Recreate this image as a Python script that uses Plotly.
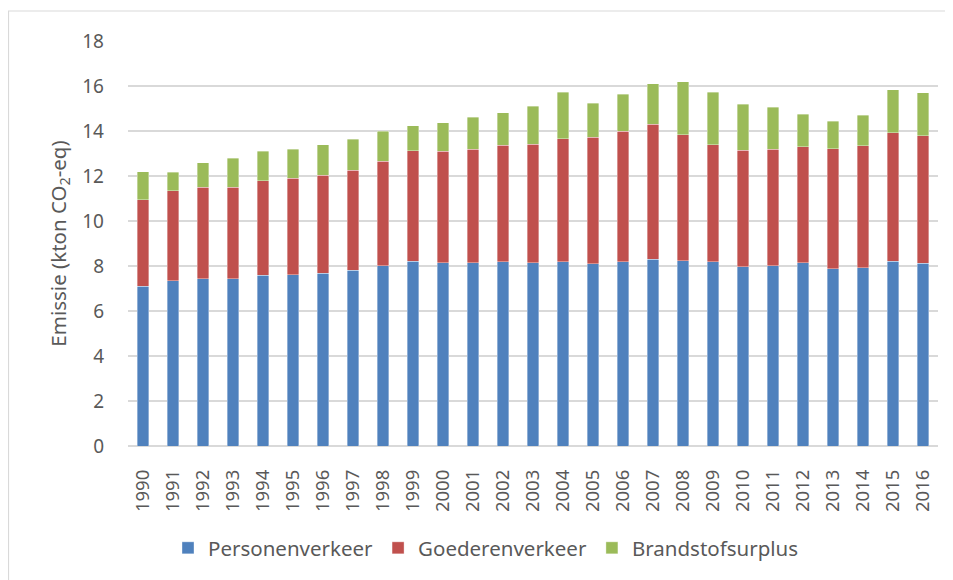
import plotly.graph_objects as go

years = [str(y) for y in range(1990, 2017)]

personen = [7.09, 7.35, 7.44, 7.43, 7.58, 7.62, 7.68, 7.81, 8.01, 8.21,
            8.14, 8.14, 8.19, 8.14, 8.20, 8.11, 8.20, 8.29, 8.24, 8.20,
            7.96, 8.02, 8.14, 7.87, 7.93, 8.21, 8.13]
goederen = [3.85, 3.99, 4.07, 4.08, 4.21, 4.29, 4.36, 4.45, 4.64, 4.91,
            4.95, 5.04, 5.17, 5.28, 5.46, 5.61, 5.80, 6.02, 5.59, 5.19,
            5.18, 5.16, 5.15, 5.34, 5.42, 5.71, 5.67]
surplus = [1.25, 0.83, 1.09, 1.29, 1.30, 1.27, 1.36, 1.38, 1.35, 1.11,
           1.28, 1.44, 1.45, 1.67, 2.06, 1.52, 1.64, 1.78, 2.35, 2.33,
           2.06, 1.87, 1.46, 1.22, 1.36, 1.92, 1.89]

SERIES = [
    ("Personenverkeer", personen, "#4F81BD"),
    ("Goederenverkeer", goederen, "#C0504D"),
    ("Brandstofsurplus", surplus, "#9BBB59"),
]

FONT = "Noto Sans"
TXT = "#595959"

fig = go.Figure()
for name, vals, color in SERIES:
    fig.add_trace(go.Bar(
        x=years, y=vals, name=name, marker_color=color,
        marker_line=dict(color="rgba(255,255,255,0.6)", width=0.6),
    ))

# page body has an 8px margin, so the figure is a bit smaller than the window
W, H = 945, 572
ml, mr, mt, mb = 120, 15, 33, 134
pw, ph = W - ml - mr, H - mt - mb

fig.update_layout(
    width=W, height=H, barmode="stack", bargap=0.61,
    paper_bgcolor="white", plot_bgcolor="white",
    margin=dict(l=ml, r=mr, t=mt, b=mb),
    font=dict(family=FONT, color=TXT),
    yaxis=dict(range=[0, 18], dtick=2, showgrid=True, gridcolor="#D9D9D9",
               gridwidth=1.5, zeroline=True, zerolinecolor="#D9D9D9",
               zerolinewidth=1.5, tickfont=dict(size=19, color=TXT),
               ticks="", ticklabelstandoff=23, automargin=False,
               title=dict(text="Emissie (kton CO<sub>2</sub>-eq)",
                          font=dict(size=20.5, color=TXT), standoff=10)),
    xaxis=dict(tickangle=-90, tickfont=dict(size=18.5, color=TXT),
               showline=False, ticks="", ticklabelstandoff=19,
               automargin=False),
    legend=dict(orientation="h", x=(478 - ml) / pw, xanchor="center",
                y=(438 - 540) / ph, yanchor="middle",
                font=dict(size=20.5, color=TXT),
                itemwidth=30, traceorder="normal"),
    shapes=[dict(type="rect", xref="paper", yref="paper",
                 x0=(0.5 - ml) / pw, x1=(W + 20 - ml) / pw,
                 y0=-(H + 20 - (H - mb)) / ph,
                 y1=(H - 3 - mb) / ph,
                 line=dict(color="#D9D9D9", width=1.2), layer="below")],
)

fig.write_html("out.html")
